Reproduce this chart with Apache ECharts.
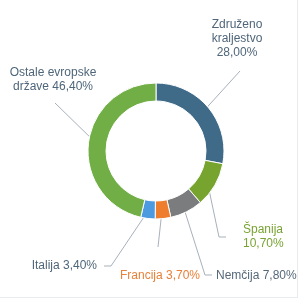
<!DOCTYPE html>
<html><head><meta charset="utf-8">
<script src="https://cdn.jsdelivr.net/npm/echarts@6/dist/echarts.min.js"></script>
<style>
html,body{margin:0;padding:0;background:#fff;}
#c{width:300px;height:300px;position:relative;}
#frame{position:absolute;left:0;top:0;width:297px;height:297px;border-right:1px solid #e9ecef;border-bottom:1px solid #e9ecef;pointer-events:none;}
</style></head>
<body><div id="c"></div><div id="frame"></div>
<script>
var categories = ['Združeno\nkraljestvo', 'Španija', 'Nemčija', 'Francija', 'Italija', 'Ostale evropske\ndržave'];
var values = [28.0, 10.7, 7.8, 3.7, 3.4, 46.4];
var sliceColors = ['#3f6b88', '#77a42e', '#7b7c7e', '#ef7d2e', '#4c9ae0', '#71ae45'];
var labelColors = ['#4f667a', '#78a332', '#56697a', '#e8803a', '#4f667a', '#4f667a'];

var cx = 156, cy = 151, rIn = 50, rOut = 68;
// label placement (anchor x, y, align), separator between name and value, leader line bend/end points
var labelPos = [
  {x: 237, y: 39, align: 'center', sep: '\n', pts: [[240, 71]]},
  {x: 243, y: 237, align: 'left', sep: '\n', pts: [[219, 237], [226, 237]]},
  {x: 216, y: 276, align: 'left', sep: ' ', pts: [[205, 275], [212, 275]]},
  {x: 120, y: 276, align: 'left', sep: ' ', pts: [[158, 247]]},
  {x: 97, y: 266, align: 'right', sep: ' ', pts: [[111, 266], [104, 266]]},
  {x: 53, y: 80, align: 'center', sep: ' ', pts: [[55, 103]]}
];

var total = values.reduce(function(a, b){ return a + b; }, 0);
var mids = [];
var acc = 0;
values.forEach(function(v){ mids.push((acc + v / 2) / total * 2 * Math.PI); acc += v; });

var chart = echarts.init(document.getElementById('c'), null, {renderer: 'canvas'});
chart.setOption({
  animation: false,
  backgroundColor: '#fff',
  series: [{
    type: 'pie',
    center: [cx, cy],
    radius: [rIn, rOut],
    startAngle: 90,
    clockwise: true,
    itemStyle: {borderColor: '#fff', borderWidth: 1},
    label: {
      show: true,
      overflow: 'none',
      fontFamily: 'Liberation Sans, Arial, sans-serif',
      fontSize: 12,
      lineHeight: 14,
      align: 'center',
      formatter: function(p){
        return p.name + labelPos[p.dataIndex].sep + p.value.toFixed(2).replace('.', ',') + '%';
      }
    },
    labelLine: {show: true, lineStyle: {color: '#a7b1bb', width: 1}},
    labelLayout: function(params){
      var i = params.dataIndex;
      var lp = labelPos[i];
      var a = mids[i];
      var rm = (rIn + rOut) / 2;
      var start = [cx + Math.sin(a) * rm, cy - Math.cos(a) * rm];
      return {
        x: lp.x, y: lp.y, align: lp.align, verticalAlign: 'middle',
        labelLinePoints: [start].concat(lp.pts)
      };
    },
    data: categories.map(function(c, i){
      return {
        name: c, value: values[i],
        itemStyle: {color: sliceColors[i]},
        label: {color: labelColors[i]}
      };
    })
  }]
});
</script></body></html>
